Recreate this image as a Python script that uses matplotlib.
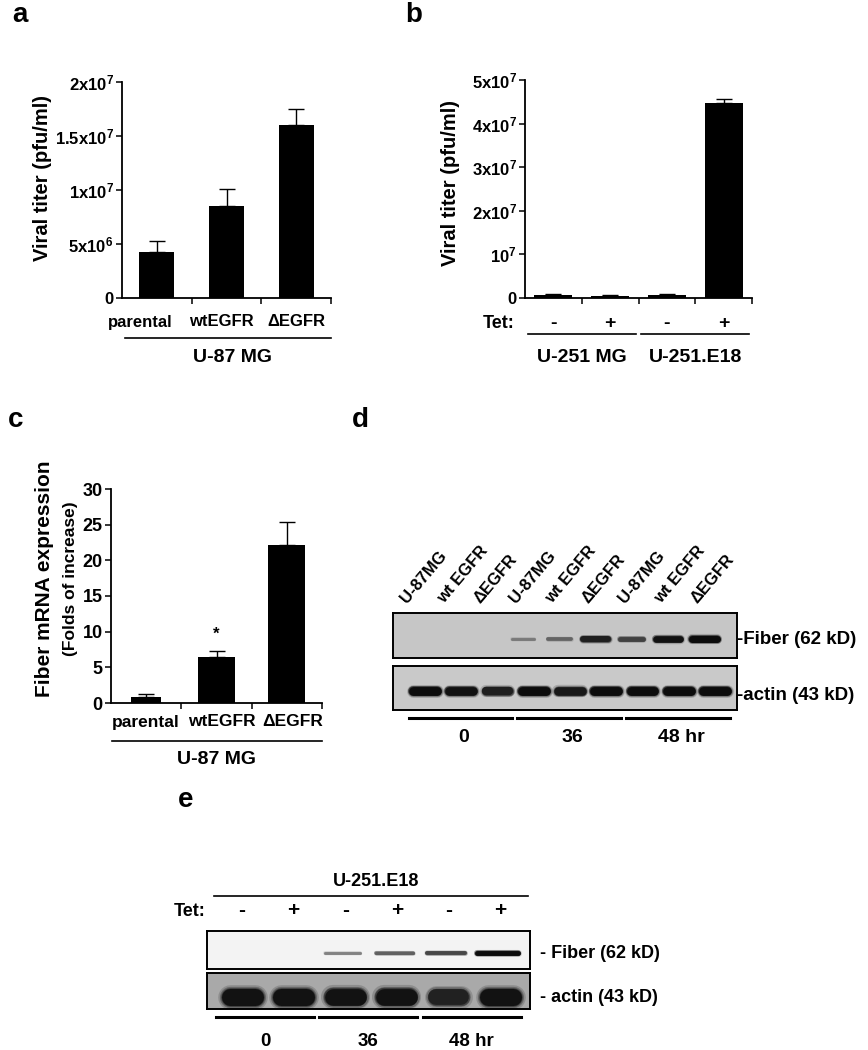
import matplotlib
matplotlib.use("Agg")
import matplotlib.pyplot as plt
import numpy as np
from matplotlib.colors import to_rgb
from matplotlib.transforms import blended_transform_factory

plt.rcParams["font.family"] = ["Liberation Sans", "DejaVu Sans"]
plt.rcParams["font.weight"] = "bold"
plt.rcParams["mathtext.fontset"] = "custom"
plt.rcParams["mathtext.rm"] = "Liberation Sans:bold"
plt.rcParams["mathtext.it"] = "Liberation Sans:bold"
plt.rcParams["mathtext.bf"] = "Liberation Sans:bold"

# panel a: viral titer in U-87 MG lines
a_cells = ["parental", "wtEGFR", "ΔEGFR"]
a_titer = [4.25e6, 8.5e6, 1.6e7]
a_err = [1.05e6, 1.6e6, 1.5e6]
a_ticks = [0, 5e6, 1e7, 1.5e7, 2e7]
a_ticklabels = ["0", "5x10$^{6}$", "1x10$^{7}$", "1.5x10$^{7}$", "2x10$^{7}$"]

# panel b: viral titer, tet on/off
b_tet = ["-", "+", "-", "+"]
b_titer = [7e5, 5e5, 7e5, 4.48e7]
b_err = [2e5, 1.5e5, 3e5, 9e5]
b_groups = ["U-251 MG", "U-251.E18"]
b_ticks = [0, 1e7, 2e7, 3e7, 4e7, 5e7]
b_ticklabels = ["0", "10$^{7}$", "2x10$^{7}$", "3x10$^{7}$", "4x10$^{7}$", "5x10$^{7}$"]

# panel c: fiber mRNA fold increase
c_cells = ["parental", "wtEGFR", "ΔEGFR"]
c_fold = [0.9, 6.5, 22.2]
c_err = [0.3, 0.8, 3.2]
c_star = [None, 9.7, None]

# panel d: western blot, band intensities 0..1
d_lanes = ["U-87MG", "wt EGFR", "ΔEGFR"] * 3
d_fiber = [0, 0, 0, 0.15, 0.3, 0.8, 0.55, 0.9, 1.0]
d_actin = [0.95, 0.9, 0.8, 0.95, 0.85, 0.95, 0.95, 0.95, 0.95]
d_times = ["0", "36", "48 hr"]

# panel e: western blot U-251.E18
e_tet = ["-", "+", "-", "+", "-", "+"]
e_fiber = [0, 0, 0.25, 0.45, 0.6, 0.95]
e_actin = [1.0, 1.0, 0.95, 0.95, 0.8, 1.0]
e_times = ["0", "36", "48 hr"]

W, H = 868, 1050
fig = plt.figure(figsize=(W / 100, H / 100), dpi=100)


def px_axes(x0, y0, x1, y1):
    return fig.add_axes([x0 / W, 1 - y1 / H, (x1 - x0) / W, (y1 - y0) / H])


def fy(y):
    return 1 - y / H


def ftext(x, y, s, size=12, **kw):
    fig.text(x / W, fy(y), s, fontsize=size, fontweight="bold",
             ha=kw.pop("ha", "center"), va=kw.pop("va", "center"), **kw)


def bar_panel(ax, values, errs, widths, ymax, ticks, ticklabels, tsize):
    x = np.arange(1, len(values) + 1)
    ax.bar(x, values, width=widths, color="black")
    ax.errorbar(x, values, yerr=[np.zeros(len(errs)), errs], fmt="none",
                ecolor="black", elinewidth=1.0, capsize=6, capthick=1.0)
    ax.set_xlim(0.5, len(values) + 0.5)
    ax.set_ylim(0, ymax)
    ax.set_yticks(ticks, ticklabels)
    ax.set_xticks(np.arange(1.5, len(values) + 1, 1), [])
    for s in ["top", "right"]:
        ax.spines[s].set_visible(False)
    for s in ["left", "bottom"]:
        ax.spines[s].set_linewidth(1.3)
    ax.tick_params(axis="both", direction="out", length=4, width=1.1,
                   labelsize=tsize, pad=2)
    ax.set_facecolor("none")
    return x


# ---- a
axa = px_axes(122, 82, 331, 298)
xa = bar_panel(axa, a_titer, a_err, 0.5, 2e7, a_ticks, a_ticklabels, 12)
tra = blended_transform_factory(axa.transData, fig.transFigure)
for x, lab, dx in zip(xa, a_cells, [-0.24, -0.07, 0.0]):
    axa.text(x + dx, fy(322), lab, transform=tra, ha="center", va="center", fontsize=12)
axa.plot([0.55, 3.5], [fy(338)] * 2, transform=tra, color="black", lw=1.2, clip_on=False)
axa.text(2.08, fy(357), "U-87 MG", transform=tra, ha="center", va="center", fontsize=14)
ftext(43, 178, "Viral titer (pfu/ml)", 14.5, rotation=90)

# ---- b
axb = px_axes(525, 80, 752, 298)
xb = bar_panel(axb, b_titer, b_err, 0.67, 5e7, b_ticks, b_ticklabels, 12)
trb = blended_transform_factory(axb.transData, fig.transFigure)
axb.text(0.32, fy(323), "Tet:", transform=trb, ha="right", va="center", fontsize=13)
for x, s in zip(xb, b_tet):
    axb.text(x, fy(323), s, transform=trb, ha="center", va="center", fontsize=14)
for g, lab in enumerate(b_groups):
    axb.plot([2 * g + 0.55, 2 * g + 2.45], [fy(334)] * 2, transform=trb,
             color="black", lw=1.2, clip_on=False)
    axb.text(2 * g + 1.5, fy(357), lab, transform=trb, ha="center", va="center", fontsize=14)
ftext(450, 183, "Viral titer (pfu/ml)", 14.5, rotation=90)

# ---- c
axc = px_axes(111, 489, 322, 703)
xc = bar_panel(axc, c_fold, c_err, [0.42, 0.53, 0.53], 30, np.arange(0, 31, 5),
               [str(v) for v in range(0, 31, 5)], 13)
for x, s in zip(xc, c_star):
    if s is not None:
        axc.text(x, s, "*", ha="center", va="center", fontsize=12)
trc = blended_transform_factory(axc.transData, fig.transFigure)
for x, lab, dx in zip(xc, c_cells, [0.0, 0.08, 0.08]):
    axc.text(x + dx, fy(722), lab, transform=trc, ha="center", va="center", fontsize=12.5)
axc.plot([0.52, 3.5], [fy(741)] * 2, transform=trc, color="black", lw=1.2, clip_on=False)
axc.text(2.0, fy(760), "U-87 MG", transform=trc, ha="center", va="center", fontsize=14)
ftext(45, 579, "Fiber mRNA expression", 15, rotation=90)
ftext(70, 579, "(Folds of increase)", 12.5, rotation=90)


# ---- blots
def mix(bg, dark, v):
    b = np.array(to_rgb(bg))
    d = np.array(to_rgb(dark))
    return tuple(b * (1 - v) + d * v)


def blot(ax, values, bg, ypos, thick, width, px_lane, shift=0.0, dark="#0c0c0c"):
    ax.set_facecolor(bg)
    ax.set_ylim(0, 1)
    ax.set_xticks([])
    ax.set_yticks([])
    for s in ax.spines.values():
        s.set_linewidth(1.4)
    for i, v in enumerate(values):
        if v <= 0:
            continue
        x = i + 1 + shift
        t = thick[0] + (thick[1] - thick[0]) * v
        w = width[0] + (width[1] - width[0]) * v
        half = max(w - t, 2) / 2 / px_lane
        col = mix(bg, dark, min(1, 0.3 + 0.75 * v))
        # soft edge: a few wider, fainter passes under the core
        for k, a in [(1.45, 0.18), (1.25, 0.3), (1.1, 0.5)]:
            ax.plot([x - half, x + half], [ypos, ypos], lw=t * k * 0.72,
                    color=col, solid_capstyle="round", alpha=a)
        ax.plot([x - half, x + half], [ypos, ypos], lw=t * 0.72, color=col,
                solid_capstyle="round")


# ---- d
lane_d = 36.25
axd1 = px_axes(393, 613, 737, 658)
axd2 = px_axes(393, 666, 737, 710)
for ax in (axd1, axd2):
    ax.set_xlim(1 + (393 - 425) / lane_d, 1 + (737 - 425) / lane_d)
blot(axd1, d_fiber, "#c6c6c6", 0.42, (2, 7), (24, 32), lane_d, shift=-0.3)
blot(axd2, d_actin, "#c9c9c9", 0.43, (6, 9), (26, 33), lane_d)
trd = blended_transform_factory(axd1.transData, fig.transFigure)
for i, lab in enumerate(d_lanes):
    axd1.text(i + 1 - 0.42, fy(606), lab, transform=trd, ha="left", va="bottom",
              rotation=50, rotation_mode="anchor", fontsize=12)
ftext(737, 639, "-Fiber (62 kD)", 13.5, ha="left")
ftext(737, 695, "-actin (43 kD)", 13.5, ha="left")
trd2 = blended_transform_factory(axd2.transData, fig.transFigure)
for g, lab in enumerate(d_times):
    x0, x1 = 3 * g + 1 - 0.45, 3 * g + 3 + 0.4
    axd2.plot([x0, x1], [fy(718)] * 2, transform=trd2, color="black", lw=2.2, clip_on=False)
    axd2.text((x0 + x1) / 2 + 0.1, fy(738), lab, transform=trd2, ha="center", va="center", fontsize=14)

# ---- e
lane_e = 51.6
axe1 = px_axes(207, 931, 530, 969)
axe2 = px_axes(207, 973, 530, 1009)
for ax in (axe1, axe2):
    ax.set_xlim(1 + (207 - 242) / lane_e, 1 + (530 - 242) / lane_e)
blot(axe1, e_fiber, "#f3f3f3", 0.42, (2, 5), (36, 46), lane_e, shift=-0.05)
blot(axe2, e_actin, "#a9a9a9", 0.32, (11, 17), (36, 42), lane_e, dark="#121212")
tre = blended_transform_factory(axe1.transData, fig.transFigure)
axe1.plot([0.45, 6.55], [fy(896)] * 2, transform=tre, color="black", lw=1.2, clip_on=False)
axe1.text(3.6, fy(882), "U-251.E18", transform=tre, ha="center", va="center", fontsize=13)
ftext(190, 911, "Tet:", 13)
for i, s in enumerate(e_tet):
    axe1.text(i + 1, fy(911), s, transform=tre, ha="center", va="center", fontsize=15)
ftext(540, 953, "- Fiber (62 kD)", 13, ha="left")
ftext(540, 997, "- actin (43 kD)", 13, ha="left")
tre2 = blended_transform_factory(axe2.transData, fig.transFigure)
for g, lab in enumerate(e_times):
    x0, x1 = 2 * g + 1 - 0.5, 2 * g + 2 + 0.4
    axe2.plot([x0, x1], [fy(1017)] * 2, transform=tre2, color="black", lw=2.2, clip_on=False)
    axe2.text((x0 + x1) / 2, fy(1042), lab, transform=tre2, ha="center", va="center", fontsize=13.5)

# panel letters
for lab, x, y in [("a", 12, 15), ("b", 405, 15), ("c", 8, 420), ("d", 352, 420), ("e", 178, 800)]:
    ftext(x, y, lab, 20, ha="left")

fig.savefig("out.png", dpi=100)
